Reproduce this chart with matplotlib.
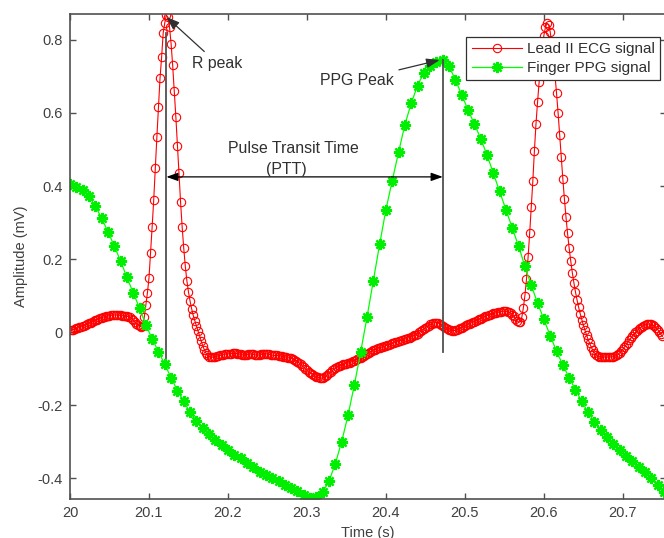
import numpy as np
import matplotlib
matplotlib.use('Agg')
import matplotlib.pyplot as plt

plt.rcParams['font.family'] = ['Liberation Sans', 'DejaVu Sans']
plt.rcParams['axes.unicode_minus'] = False

# ECG sampled at 500 Hz, PPG at 125 Hz, both starting at t = 20 s
t_start = 20.0
fs_ecg = 500.0
fs_ppg = 125.0

ecg = [
    0.005, 0.006, 0.007, 0.008, 0.010, 0.011, 0.013, 0.014, 0.016, 0.018,
    0.020, 0.022, 0.024, 0.026, 0.028, 0.030, 0.032, 0.034, 0.036, 0.038,
    0.039, 0.041, 0.042, 0.043, 0.044, 0.045, 0.046, 0.046, 0.047, 0.047,
    0.047, 0.046, 0.046, 0.045, 0.045, 0.044, 0.043, 0.042, 0.040, 0.037,
    0.033, 0.028, 0.023, 0.019, 0.016, 0.015, 0.016, 0.040, 0.074, 0.107,
    0.148, 0.216, 0.288, 0.362, 0.449, 0.534, 0.616, 0.696, 0.753, 0.819,
    0.847, 0.868, 0.862, 0.835, 0.790, 0.730, 0.660, 0.590, 0.510, 0.435,
    0.356, 0.288, 0.230, 0.180, 0.140, 0.110, 0.085, 0.064, 0.046, 0.031,
    0.017, 0.004, -0.010, -0.024, -0.037, -0.048, -0.057, -0.063, -0.067, -0.069,
    -0.069, -0.068, -0.067, -0.066, -0.065, -0.064, -0.063, -0.062, -0.061, -0.060,
    -0.060, -0.059, -0.059, -0.058, -0.058, -0.058, -0.059, -0.060, -0.061, -0.062,
    -0.063, -0.063, -0.062, -0.061, -0.060, -0.060, -0.061, -0.062, -0.063, -0.063,
    -0.062, -0.061, -0.060, -0.059, -0.059, -0.060, -0.061, -0.062, -0.063, -0.064,
    -0.064, -0.064, -0.065, -0.065, -0.066, -0.067, -0.068, -0.069, -0.070, -0.071,
    -0.072, -0.074, -0.076, -0.078, -0.081, -0.084, -0.088, -0.092, -0.096, -0.100,
    -0.104, -0.108, -0.111, -0.114, -0.117, -0.120, -0.122, -0.124, -0.125, -0.126,
    -0.126, -0.124, -0.121, -0.117, -0.113, -0.109, -0.105, -0.102, -0.099, -0.096,
    -0.094, -0.092, -0.090, -0.088, -0.087, -0.086, -0.085, -0.084, -0.082, -0.080,
    -0.078, -0.076, -0.074, -0.072, -0.070, -0.068, -0.065, -0.062, -0.059, -0.056,
    -0.054, -0.052, -0.050, -0.048, -0.046, -0.044, -0.043, -0.042, -0.040, -0.039,
    -0.037, -0.036, -0.034, -0.033, -0.031, -0.030, -0.028, -0.027, -0.025, -0.024,
    -0.022, -0.021, -0.019, -0.018, -0.016, -0.015, -0.013, -0.011, -0.009, -0.007,
    -0.004, -0.001, 0.002, 0.005, 0.009, 0.012, 0.015, 0.018, 0.021, 0.023,
    0.025, 0.026, 0.026, 0.025, 0.023, 0.020, 0.017, 0.014, 0.011, 0.008,
    0.006, 0.005, 0.004, 0.004, 0.005, 0.006, 0.008, 0.010, 0.012, 0.015,
    0.017, 0.019, 0.021, 0.023, 0.025, 0.027, 0.029, 0.031, 0.033, 0.035,
    0.037, 0.039, 0.041, 0.043, 0.045, 0.047, 0.048, 0.050, 0.051, 0.052,
    0.053, 0.054, 0.055, 0.056, 0.057, 0.057, 0.057, 0.056, 0.055, 0.052,
    0.048, 0.043, 0.037, 0.031, 0.027, 0.028, 0.040, 0.066, 0.100, 0.145,
    0.205, 0.270, 0.342, 0.413, 0.496, 0.570, 0.630, 0.685, 0.735, 0.780,
    0.812, 0.835, 0.845, 0.842, 0.822, 0.790, 0.750, 0.705, 0.655, 0.600,
    0.540, 0.480, 0.420, 0.365, 0.315, 0.270, 0.230, 0.195, 0.163, 0.135,
    0.110, 0.088, 0.068, 0.050, 0.034, 0.019, 0.005, -0.008, -0.020, -0.031,
    -0.041, -0.050, -0.057, -0.062, -0.065, -0.067, -0.068, -0.068, -0.068, -0.068,
    -0.068, -0.068, -0.068, -0.068, -0.067, -0.066, -0.064, -0.061, -0.057, -0.052,
    -0.047, -0.041, -0.035, -0.029, -0.023, -0.017, -0.011, -0.006, -0.001, 0.004,
    0.008, 0.012, 0.015, 0.018, 0.020, 0.021, 0.022, 0.022, 0.021, 0.019,
    0.016, 0.012, 0.007, 0.001, -0.006, -0.012,
]

ppg = [
    0.405, 0.398, 0.390, 0.372, 0.345, 0.312, 0.275, 0.236, 0.195, 0.150,
    0.108, 0.066, 0.020, -0.018, -0.054, -0.088, -0.125, -0.160, -0.190, -0.220,
    -0.243, -0.262, -0.278, -0.295, -0.310, -0.324, -0.336, -0.346, -0.358, -0.370,
    -0.383, -0.392, -0.400, -0.409, -0.418, -0.427, -0.436, -0.446, -0.455, -0.452,
    -0.438, -0.408, -0.360, -0.300, -0.228, -0.145, -0.055, 0.040, 0.140, 0.240,
    0.335, 0.415, 0.492, 0.568, 0.626, 0.675, 0.710, 0.728, 0.740, 0.745,
    0.728, 0.690, 0.650, 0.608, 0.570, 0.530, 0.485, 0.435, 0.385, 0.335,
    0.285, 0.235, 0.180, 0.128, 0.080, 0.035, -0.010, -0.052, -0.090, -0.125,
    -0.158, -0.190, -0.220, -0.245, -0.268, -0.288, -0.306, -0.322, -0.338, -0.354,
    -0.370, -0.384, -0.400, -0.418, -0.438,
]

xticks = [20.0, 20.1, 20.2, 20.3, 20.4, 20.5, 20.6, 20.7]
xticklabels = ['20', '20.1', '20.2', '20.3', '20.4', '20.5', '20.6', '20.7']
yticks = [-0.4, -0.2, 0.0, 0.2, 0.4, 0.6, 0.8]
yticklabels = ['-0.4', '-0.2', '0', '0.2', '0.4', '0.6', '0.8']

ecg = np.array(ecg)
ppg = np.array(ppg)
t_ecg = t_start + np.arange(len(ecg)) / fs_ecg
t_ppg = t_start + np.arange(len(ppg)) / fs_ppg

fig = plt.figure(figsize=(6.64, 5.38), dpi=100)
ax = fig.add_axes([70 / 664, 39 / 538, 595.5 / 664, 485 / 538])

ax.plot(t_ecg, ecg, color='#ff0000', lw=0.8, marker='o', ms=6,
        mfc='none', mec='#ff0000', mew=0.8, label='Lead II ECG signal')
ax.plot(t_ppg, ppg, color='#00ff00', lw=0.9, marker=(8, 2, 0), ms=8,
        mec='#00ee00', mew=1.7, label='Finger PPG signal')

# peaks used for the PTT markers
first_half = t_ecg < 20.3
i_r = np.argmax(np.where(first_half, ecg, -1))
t_r, v_r = t_ecg[i_r], ecg[i_r]
i_p = np.argmax(ppg)
t_p, v_p = t_ppg[i_p], ppg[i_p]

line_col = '#505050'
ax.plot([t_r, t_r], [0.82, -0.07], color=line_col, lw=1.3)
ax.plot([t_p, t_p], [v_p, -0.055], color=line_col, lw=1.3)

ax.annotate('', xy=(t_p, 0.425), xytext=(t_r, 0.425),
            arrowprops=dict(arrowstyle='<|-|>,head_length=0.7,head_width=0.25',
                            color='black', lw=0.9, shrinkA=0, shrinkB=0))
ax.text(20.2823, 0.504, 'Pulse Transit Time', ha='center', va='center',
        fontsize=11.4, color='#303030')
ax.text(20.2734, 0.444, '(PTT)', ha='center', va='center',
        fontsize=11.4, color='#303030')

ax.annotate('R peak', xy=(t_r, v_r - 0.005), xytext=(20.155, 0.735),
            ha='left', va='center', fontsize=11.4, color='#303030',
            arrowprops=dict(arrowstyle='-|>,head_length=0.7,head_width=0.25',
                            color='#303030', lw=0.9, shrinkA=2, shrinkB=0))
ax.annotate('PPG Peak', xy=(t_p - 0.004, v_p), xytext=(20.316, 0.690),
            ha='left', va='center', fontsize=11.4, color='#303030',
            arrowprops=dict(arrowstyle='-|>,head_length=0.7,head_width=0.25',
                            color='#303030', lw=0.9, shrinkA=2, shrinkB=0))

ax.set_xlim(20.0, 20.754)
ax.set_ylim(-0.457, 0.871)
ax.set_xticks(xticks)
ax.set_xticklabels(xticklabels)
ax.set_yticks(yticks)
ax.set_yticklabels(yticklabels)
ax.tick_params(direction='in', length=4, width=1.0, top=True, right=True,
               labelsize=10.5, labelcolor='#404040', color='#505050', pad=5)
for sp in ax.spines.values():
    sp.set_color('#505050')
    sp.set_linewidth(1.2)

ax.set_xlabel('Time (s)', fontsize=10.5, color='#404040', labelpad=4)
ax.set_ylabel('Amplitude (mV)', fontsize=10.5, color='#404040', labelpad=7)

leg = ax.legend(loc='upper right', bbox_to_anchor=(0.9908, 0.9526),
                borderaxespad=0, fontsize=11, fancybox=False,
                handlelength=3.3, handletextpad=0.3, borderpad=0.35,
                labelspacing=0.3, framealpha=1)
leg.get_frame().set_edgecolor('#303030')
leg.get_frame().set_linewidth(0.9)
for txt in leg.get_texts():
    txt.set_color('#303030')

plt.savefig('out.png', dpi=100)
